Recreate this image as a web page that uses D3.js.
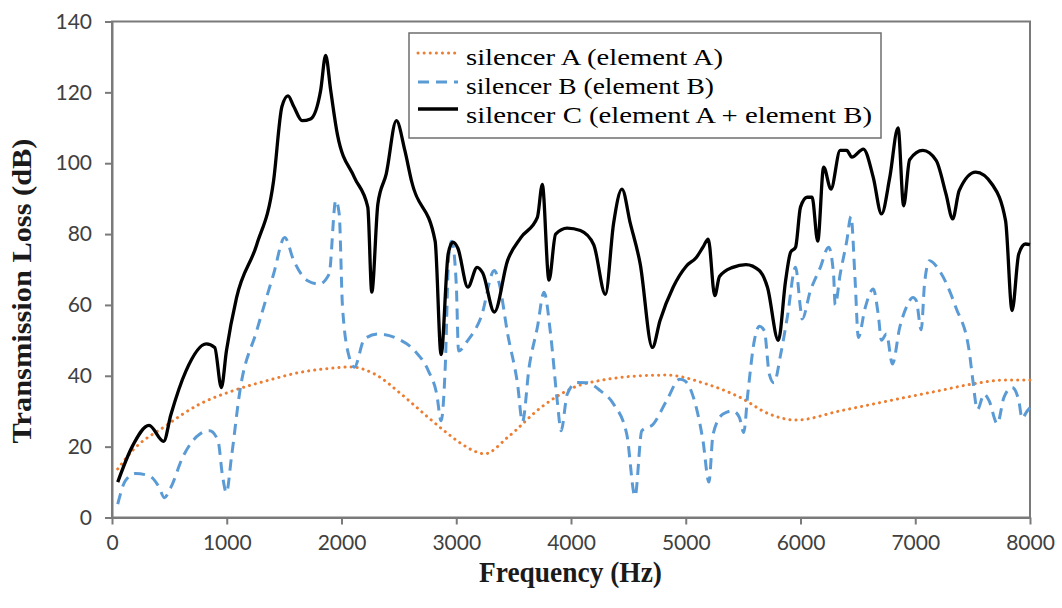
<!DOCTYPE html>
<html>
<head>
<meta charset="utf-8">
<script src="https://cdn.jsdelivr.net/npm/d3@7"></script>
<style>
  body { margin: 0; background: #fff; }
  svg { display: block; }
</style>
</head>
<body>
<div id="chart"></div>
<script>
// silencer A (element A) - orange dotted
var freqA = [50, 176, 469, 763, 1056, 1349, 1643, 1936, 2080, 2288, 2522, 2757, 2933, 3050, 3250, 3447, 3736, 4024, 4313, 4603, 4830, 5179, 5468, 5728, 5960, 6346, 6778, 7210, 7499, 7787, 8000];
var tlA = [13.7, 18.8, 25.9, 32, 35.8, 38.6, 41, 42.2, 42.5, 40.5, 34.8, 28.2, 23.5, 20.7, 18, 22.6, 31, 36.7, 39, 40, 40.2, 37.7, 34, 29.2, 27.5, 30.1, 33, 35.8, 37.7, 38.8, 38.8];

// silencer B (element B) - blue dashed
var freqB = [50, 117, 205, 323, 411, 455, 513, 616, 763, 850, 924, 962, 997, 1041, 1115, 1261, 1408, 1505, 1584, 1701, 1804, 1892, 1950, 1980, 2009, 2068, 2112, 2200, 2317, 2493, 2640, 2757, 2830, 2868, 2904, 2935, 2960, 3000, 3020, 3101, 3216, 3332, 3375, 3447, 3534, 3577, 3635, 3707, 3765, 3822, 3880, 3914, 3967, 4053, 4140, 4255, 4371, 4486, 4558, 4617, 4718, 4833, 4948, 4991, 5092, 5150, 5202, 5238, 5325, 5411, 5468, 5505, 5541, 5598, 5642, 5685, 5728, 5769, 5827, 5885, 5957, 6000, 6014, 6086, 6173, 6245, 6288, 6302, 6346, 6403, 6440, 6476, 6504, 6562, 6634, 6677, 6706, 6749, 6801, 6865, 6922, 6980, 7009, 7052, 7081, 7124, 7210, 7354, 7470, 7499, 7542, 7600, 7643, 7715, 7773, 7844, 7902, 7931, 7974, 8000];
var tlB = [3.8, 10.4, 12.4, 11.8, 8.5, 5.6, 8.5, 17, 23.5, 24.5, 21.7, 12, 7, 17, 35.8, 52.7, 68.7, 79, 72.5, 66.9, 65.9, 68.7, 89.5, 85.7, 59.3, 45.2, 42.4, 50.4, 51.8, 50.4, 47, 41.4, 34.8, 27.3, 42.4, 74, 78, 66, 47, 50, 56.5, 69.7, 66, 52, 37.7, 27, 42.4, 53.7, 63.6, 51.8, 33, 24.5, 34.8, 38.1, 38, 35.8, 32, 23.5, 6, 24.5, 26.4, 33, 39, 38.6, 31, 21.7, 10, 23.5, 29.2, 30.1, 28.2, 24, 35, 50, 54, 52.7, 40.5, 38, 46, 56.5, 70.6, 59, 56, 64, 70.6, 76.3, 68.7, 60, 68.7, 78, 85, 66.9, 50.8, 59, 64.5, 57.4, 50, 51.8, 43.3, 53.7, 59.3, 62.1, 61.2, 53, 66, 72.5, 69.7, 59.3, 47, 39.5, 30.5, 34.8, 33, 26.5, 33.9, 36.7, 33, 28, 30, 31];

// silencer C (element A + element B) - black solid
var freqC = [50, 176, 323, 450, 513, 645, 821, 895, 953, 997, 1085, 1261, 1408, 1481, 1534, 1584, 1657, 1730, 1818, 1862, 1906, 1965, 2112, 2229, 2264, 2317, 2390, 2478, 2552, 2610, 2816, 2868, 2930, 2971, 3014, 3101, 3182, 3231, 3332, 3447, 3563, 3707, 3750, 3808, 3866, 3967, 4082, 4198, 4300, 4371, 4444, 4517, 4603, 4709, 4776, 4890, 5006, 5092, 5150, 5196, 5253, 5294, 5410, 5525, 5641, 5712, 5807, 5870, 5914, 5957, 6000, 6058, 6101, 6150, 6202, 6265, 6346, 6403, 6447, 6548, 6634, 6706, 6778, 6850, 6899, 6951, 7066, 7182, 7268, 7326, 7383, 7527, 7671, 7787, 7844, 7902, 7960, 8000];
var tlC = [10, 20, 26, 21.5, 29, 41.4, 49, 48, 36.7, 47, 62, 77, 95, 116, 119, 116, 112, 112.5, 120.5, 130.4, 120.5, 108, 96, 87.6, 63.6, 88.5, 97, 112, 103.6, 95, 78, 46, 74.5, 77.7, 76, 65, 70.6, 69, 58, 72.5, 79, 84.7, 94, 67, 80, 81.7, 81, 77, 63, 83, 92.7, 83, 71.6, 48, 55.6, 65, 71, 73.4, 76.3, 78.6, 62.6, 68, 70.6, 71.4, 69.7, 65, 50, 66.8, 74.9, 76.3, 87.6, 90.4, 90.4, 78, 98.9, 92.7, 103.6, 103.6, 101.7, 104, 96, 85.7, 96, 110, 88, 101, 103.6, 100.8, 91.3, 84.3, 92.3, 97.5, 94, 83.8, 58.4, 74.4, 77.2, 77];

var legendNames = ["silencer A (element A)", "silencer B (element B)", "silencer C (element A + element B)"];
var xTicks = [0, 1000, 2000, 3000, 4000, 5000, 6000, 7000, 8000];
var yTicks = [0, 20, 40, 60, 80, 100, 120, 140];

var width = 1062;
var height = 608;
var plotLeft = 112, plotRight = 1030, plotTop = 21.5, plotBottom = 517.5;

var series = [
  { name: legendNames[0], freq: freqA, tl: tlA, color: "#ED7D31", width: 3, dash: "0.1 6", cap: "round" },
  { name: legendNames[1], freq: freqB, tl: tlB, color: "#5B9BD5", width: 3, dash: "11 7", cap: "butt" },
  { name: legendNames[2], freq: freqC, tl: tlC, color: "#000000", width: 3.3, dash: null, cap: "butt" }
];

var svg = d3.select("#chart").append("svg")
  .attr("width", width)
  .attr("height", height);

svg.append("rect").attr("width", width).attr("height", height).attr("fill", "#fff");

var x = d3.scaleLinear().domain([0, 8000]).range([plotLeft, plotRight]);
var y = d3.scaleLinear().domain([0, 140]).range([plotBottom, plotTop]);

/* frame */
svg.append("rect")
  .attr("x", plotLeft).attr("y", plotTop)
  .attr("width", plotRight - plotLeft).attr("height", plotBottom - plotTop)
  .attr("fill", "none")
  .attr("stroke", "#7a7a7a")
  .attr("stroke-width", 2);

/* axes */
var xAxis = d3.axisBottom(x).tickValues(xTicks).tickFormat(d3.format("d"))
  .tickSize(7).tickPadding(11).tickSizeOuter(0);
var yAxis = d3.axisLeft(y).tickValues(yTicks).tickFormat(d3.format("d"))
  .tickSize(7).tickPadding(13).tickSizeOuter(0);

var gx = svg.append("g").attr("transform", "translate(0," + plotBottom + ")").call(xAxis);
var gy = svg.append("g").attr("transform", "translate(" + plotLeft + ",0)").call(yAxis);

[gx, gy].forEach(function(g) {
  g.select(".domain").attr("stroke", "#7a7a7a").attr("stroke-width", 2);
  g.selectAll(".tick line").attr("stroke", "#7a7a7a").attr("stroke-width", 2);
  g.selectAll(".tick text")
    .attr("fill", "#404040")
    .style("font-family", "Lato, 'Open Sans', sans-serif")
    .style("font-size", "21px");
});

/* lines */
var line = d3.line()
  .x(function(d) { return x(d[0]); })
  .y(function(d) { return y(d[1]); })
  .curve(d3.curveMonotoneX);

series.forEach(function(s) {
  var pts = s.freq.map(function(f, i) { return [f, s.tl[i]]; });
  svg.append("path")
    .datum(pts)
    .attr("d", line)
    .attr("fill", "none")
    .attr("stroke", s.color)
    .attr("stroke-width", s.width)
    .attr("stroke-linecap", s.cap)
    .attr("stroke-linejoin", "round")
    .attr("stroke-dasharray", s.dash);
});

/* axis titles */
svg.append("text")
  .attr("transform", "translate(31,291) rotate(-90)")
  .attr("text-anchor", "middle")
  .attr("textLength", 305)
  .attr("lengthAdjust", "spacingAndGlyphs")
  .style("font-family", "'Liberation Serif', 'Times New Roman', serif")
  .style("font-weight", "bold")
  .style("font-size", "27px")
  .attr("fill", "#1a1a1a")
  .text("Transmission Loss (dB)");

svg.append("text")
  .attr("x", 570.5)
  .attr("y", 582)
  .attr("text-anchor", "middle")
  .attr("textLength", 183)
  .attr("lengthAdjust", "spacingAndGlyphs")
  .style("font-family", "'Liberation Serif', 'Times New Roman', serif")
  .style("font-weight", "bold")
  .style("font-size", "29px")
  .attr("fill", "#1a1a1a")
  .text("Frequency (Hz)");

/* legend */
var legendRows = [
  { y: 65, lineY: 53, len: 257 },
  { y: 94, lineY: 82, len: 248 },
  { y: 123, lineY: 109, len: 406 }
];

var legend = svg.append("g").attr("class", "legend");

legend.append("rect")
  .attr("x", 409).attr("y", 33)
  .attr("width", 472).attr("height", 105)
  .attr("fill", "#fff")
  .attr("stroke", "#6e6e6e")
  .attr("stroke-width", 1.5);

series.forEach(function(s, i) {
  var r = legendRows[i];
  legend.append("line")
    .attr("x1", 418).attr("x2", 458)
    .attr("y1", r.lineY).attr("y2", r.lineY)
    .attr("stroke", s.color)
    .attr("stroke-width", s.width)
    .attr("stroke-linecap", s.cap)
    .attr("stroke-dasharray", s.dash);
  legend.append("text")
    .attr("x", 466)
    .attr("y", r.y)
    .attr("textLength", r.len)
    .attr("lengthAdjust", "spacingAndGlyphs")
    .style("font-family", "'Liberation Serif', 'Times New Roman', serif")
    .style("font-size", "24px")
    .attr("fill", "#000")
    .text(s.name);
});
</script>
</body>
</html>
